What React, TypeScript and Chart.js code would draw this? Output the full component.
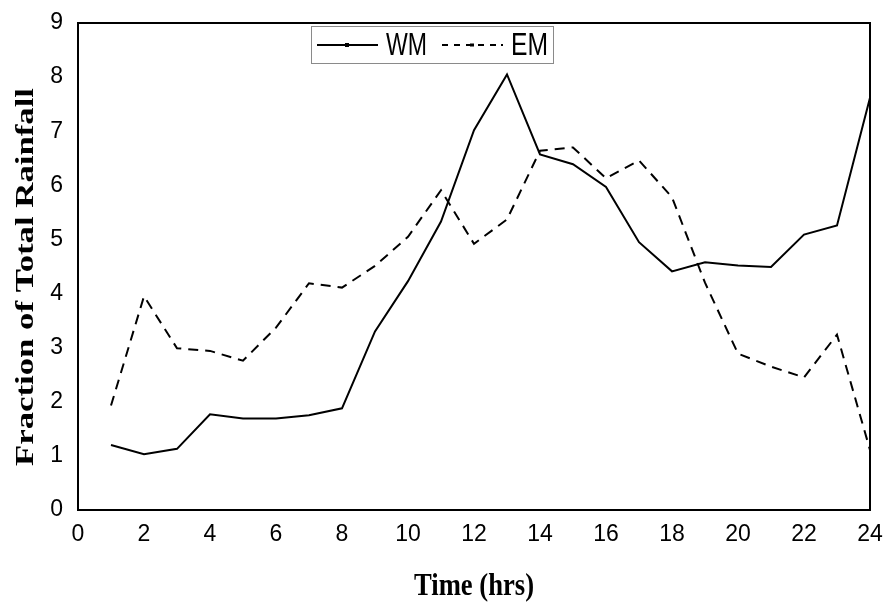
import { useEffect, useRef } from "react";
import { Chart, registerables } from "chart.js";

Chart.register(...registerables);

// Hour of day (1–24)
const hours = [1, 2, 3, 4, 5, 6, 7, 8, 9, 10, 11, 12, 13, 14, 15, 16, 17, 18, 19, 20, 21, 22, 23, 24];

// Fraction of total rainfall per hour (%)
const wmValues = [1.2, 1.03, 1.13, 1.77, 1.69, 1.69, 1.75, 1.88, 3.3, 4.23, 5.33, 7.02, 8.05, 6.57, 6.39, 5.97, 4.95, 4.41, 4.58, 4.52, 4.49, 5.09, 5.26, 7.62];
const emValues = [1.93, 3.95, 2.99, 2.94, 2.76, 3.37, 4.19, 4.11, 4.51, 5.05, 5.91, 4.92, 5.37, 6.64, 6.7, 6.13, 6.46, 5.78, 4.2, 2.89, 2.65, 2.45, 3.24, 1.11];

const seriesNames = ["WM", "EM"];
const xTitle = "Time (hrs)";
const yTitle = "Fraction of Total Rainfall";

const SANS = "'Liberation Sans', Arial, sans-serif";
const SERIF = "'Liberation Serif', 'Times New Roman', serif";

const EM_DASH = [10, 7];

// Frame, legend box and axis titles
const decorations = {
  id: "decorations",
  afterDraw(chart: any) {
    const { ctx, chartArea } = chart;
    const { left, right, top, bottom } = chartArea;
    ctx.save();

    // plot frame
    ctx.strokeStyle = "#000";
    ctx.lineWidth = 2;
    ctx.strokeRect(left, top, right - left, bottom - top);

    // legend box
    const lx = 311.5, ly = 26.5, lw = 242, lh = 37;
    ctx.fillStyle = "#fff";
    ctx.fillRect(lx, ly, lw, lh);
    ctx.strokeStyle = "#8a8a8a";
    ctx.lineWidth = 1;
    ctx.strokeRect(lx, ly, lw, lh);

    const cy = 45;
    // WM sample
    ctx.strokeStyle = "#000";
    ctx.lineWidth = 2;
    ctx.setLineDash([]);
    ctx.beginPath();
    ctx.moveTo(317, cy);
    ctx.lineTo(378, cy);
    ctx.stroke();
    ctx.fillStyle = "#000";
    ctx.fillRect(345, cy - 2, 4, 4);

    // EM sample
    ctx.setLineDash([6, 6]);
    ctx.beginPath();
    ctx.moveTo(442, cy);
    ctx.lineTo(498, cy);
    ctx.stroke();
    ctx.setLineDash([]);
    ctx.fillRect(470, cy - 1.5, 4, 3);
    ctx.fillRect(501, cy - 1, 2, 2);

    // legend labels, condensed
    ctx.font = `31px ${SANS}`;
    ctx.textBaseline = "middle";
    ctx.textAlign = "left";
    const drawNarrow = (text: string, x: number, y: number, w: number) => {
      const m = ctx.measureText(text).width;
      ctx.save();
      ctx.translate(x, y);
      ctx.scale(w / m, 1);
      ctx.fillText(text, 0, 0);
      ctx.restore();
    };
    drawNarrow(seriesNames[0], 386, cy + 1, 41);
    drawNarrow(seriesNames[1], 511, cy + 1, 37);

    // x-axis title
    ctx.font = `bold 32px ${SERIF}`;
    ctx.textAlign = "center";
    ctx.textBaseline = "alphabetic";
    const xw = ctx.measureText(xTitle).width;
    ctx.save();
    ctx.translate((left + right) / 2, 595);
    ctx.scale(120 / xw, 1);
    ctx.fillText(xTitle, 0, 0);
    ctx.restore();

    // y-axis title
    ctx.font = `bold 26px ${SERIF}`;
    const yw = ctx.measureText(yTitle).width;
    ctx.save();
    ctx.translate(33, 277);
    ctx.rotate(-Math.PI / 2);
    ctx.scale(378 / yw, 1);
    ctx.fillText(yTitle, 0, 0);
    ctx.restore();

    ctx.restore();
  },
};

export default function App() {
  const canvasRef = useRef<HTMLCanvasElement | null>(null);

  useEffect(() => {
    document.body.style.margin = "0";
    const canvas = canvasRef.current;
    if (!canvas) return;

    const chart = new Chart(canvas, {
      type: "line",
      data: {
        datasets: [
          {
            label: seriesNames[0],
            data: hours.map((h, i) => ({ x: h, y: wmValues[i] })),
            borderColor: "#000",
            borderWidth: 2,
            pointRadius: 0,
            tension: 0,
            fill: false,
          },
          {
            label: seriesNames[1],
            data: hours.map((h, i) => ({ x: h, y: emValues[i] })),
            borderColor: "#000",
            borderWidth: 2,
            borderDash: EM_DASH,
            pointRadius: 0,
            tension: 0,
            fill: false,
          },
        ],
      },
      options: {
        responsive: false,
        animation: false,
        devicePixelRatio: 1,
        layout: { padding: { top: 23, right: 14, left: 0, bottom: 0 } },
        plugins: {
          legend: { display: false },
          tooltip: { enabled: false },
        },
        scales: {
          x: {
            type: "linear",
            min: 0,
            max: 24,
            grid: { display: false, drawTicks: false },
            border: { display: false },
            ticks: {
              stepSize: 2,
              color: "#000",
              padding: 11,
              maxRotation: 0,
              font: { family: SANS, size: 23 },
            },
            afterFit(scale: any) {
              scale.height = 92;
              scale.paddingLeft = 0;
              scale.paddingRight = 0;
            },
          },
          y: {
            min: 0,
            max: 9,
            grid: { display: false, drawTicks: false },
            border: { display: false },
            ticks: {
              stepSize: 1,
              color: "#000",
              padding: 15,
              font: { family: SANS, size: 23 },
            },
            afterFit(scale: any) {
              scale.width = 78;
              scale.paddingTop = 0;
              scale.paddingBottom = 0;
            },
          },
        },
      },
      plugins: [decorations],
    });

    return () => chart.destroy();
  }, []);

  return (
    <div style={{ width: 884, height: 602, background: "#fff" }}>
      <canvas ref={canvasRef} width={884} height={602} />
    </div>
  );
}
